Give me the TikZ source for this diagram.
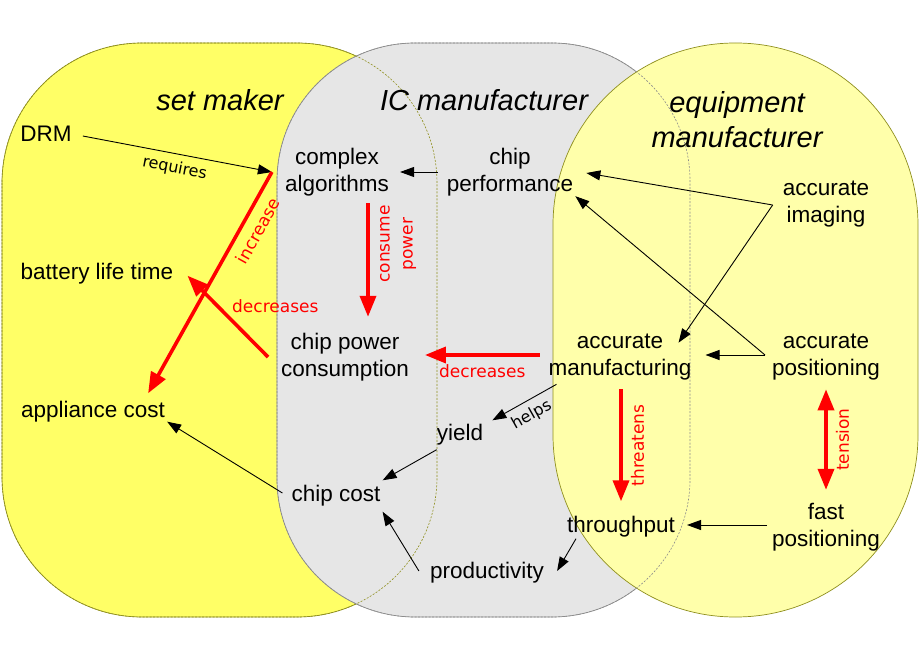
\documentclass[tikz,border=0pt]{standalone}
\usepackage{fontspec}
\setmainfont{Liberation Sans}
\newfontfamily\verbfont{DejaVu Sans}
\usetikzlibrary{arrows.meta}
\definecolor{makeryellow}{HTML}{FFFF66}
\definecolor{equipyellow}{HTML}{FFFFAA}
\definecolor{icgray}{HTML}{E6E6E6}
\definecolor{rimolive}{HTML}{8F8F1F}
\definecolor{rimgray}{HTML}{8C8C8C}
\tikzset{bigtip/.tip={Triangle[length=21pt,width=16pt]}}

\begin{document}
\begin{tikzpicture}[x=1pt,y=-1pt,
    party/.style={line width=0.7pt},
    hidden/.style={line width=0.6pt,dash pattern=on 2pt off 1.5pt},
    partyname/.style={align=center,font=\fontsize{29}{35}\selectfont\itshape},
    concept/.style={align=center,font=\fontsize{22.5}{27}\selectfont,inner sep=2pt},
    link/.style={-{Triangle[length=14pt,width=10pt]},line width=0.9pt},
    effect/.style={-bigtip,line width=3.6pt,red},
    verb/.style={font=\verbfont\fontsize{16}{19}\selectfont,inner sep=2pt,outer sep=5pt},
    redverb/.style={font=\verbfont\fontsize{17}{23}\selectfont,text=red,align=center,inner sep=2pt,outer sep=8pt}]

\useasboundingbox (0,0) rectangle (920,660);

% the three parties
\filldraw[party,fill=makeryellow,draw=rimolive,rounded corners=140pt] (2,43) rectangle (437,617);
\filldraw[party,fill=icgray,draw=rimgray,rounded corners=138pt] (277,43) rectangle (690,617);
\filldraw[party,fill=equipyellow,draw=rimolive,rounded corners=182pt] (553,43) rectangle (918,617);
\draw[hidden,rimolive,rounded corners=140pt] (2,43) rectangle (437,617);
\draw[hidden,rimgray,rounded corners=138pt] (277,43) rectangle (690,617);

\node[partyname] (maker) at (220,100) {set maker};
\node[partyname] (icman) at (484,100) {IC manufacturer};
\node[partyname] (equip) at (737,120) {equipment\\manufacturer};

% concepts
\node[concept] (drm) at (46,134) {DRM};
\node[concept] (algo) at (337,172) {complex\\algorithms};
\node[concept] (perf) at (510,172) {chip\\performance};
\node[concept] (img) at (826,204) {accurate\\imaging};
\node[concept] (batt) at (97,274) {battery life time};
\node[concept] (power) at (345,357) {chip power\\consumption};
\node[concept] (manu) at (620,357) {accurate\\manufacturing};
\node[concept] (pos) at (826,357) {accurate\\positioning};
\node[concept] (appl) at (93,412) {appliance cost};
\node[concept] (yield) at (460,435) {yield};
\node[concept] (ccost) at (336,496) {chip cost};
\node[concept] (thru) at (621,527) {throughput};
\node[concept] (fast) at (826,527) {fast\\positioning};
\node[concept] (prod) at (487,573) {productivity};

\coordinate (hub) at ([xshift=-11pt]algo.west);

% black relations
\draw[link] ([xshift=9pt,yshift=-2pt]drm.east) -- (hub) node[midway,below,sloped,verb] {requires};
\draw[link] ([xshift=-7pt]perf.west) -- ([xshift=9pt]algo.east);
\draw[link] ([xshift=-8pt,yshift=-1pt]img.west) -- ([xshift=11pt,yshift=-1pt]perf.east);
\draw[link] ([xshift=-8pt,yshift=-1pt]img.west) -- ([xshift=-15pt,yshift=-11pt]manu.north east);
\draw[link] ([xshift=-5pt,yshift=2pt]pos.west) -- ([yshift=2pt]perf.south east);
\draw[link] ([xshift=-5pt,yshift=2pt]pos.west) -- ([xshift=12pt,yshift=2pt]manu.east);
\draw[link] ([xshift=10pt,yshift=-2pt]manu.south west) -- ([xshift=7pt,yshift=2pt]yield.north east) node[midway,below,sloped,verb] {helps};
\draw[link] ([xshift=2pt,yshift=-2pt]yield.south west) -- ([yshift=3pt]ccost.north east);
\draw[link] ([xshift=-7pt,yshift=3pt]ccost.west) -- ([yshift=3pt]appl.south east);
\draw[link] ([xshift=-9pt,yshift=2pt]prod.west) -- ([yshift=-3pt]ccost.south east);
\draw[link] ([xshift=11pt,yshift=1pt]thru.south west) -- ([xshift=11pt,yshift=2pt]prod.east);
\draw[link] ([xshift=-3pt,yshift=2pt]fast.west) -- ([xshift=10pt,yshift=2pt]thru.east);

% red effects
\draw[effect] (hub) -- ([xshift=-19pt,yshift=6pt]appl.north east) node[pos=0.23,sloped,below,redverb] {increase};
\draw[effect] ([xshift=-11pt]power.west) -- ([xshift=12pt,yshift=11pt]batt.south east) node[pos=0.47,anchor=south west,redverb,outer sep=0pt,yshift=4pt] {decreases};
\draw[effect] ([xshift=31pt,yshift=-5pt]algo.south) -- ([xshift=23pt,yshift=14pt]power.north) node[pos=0.36,rotate=90,anchor=north,redverb,outer sep=10pt] {consume\\power};
\draw[effect] ([xshift=-7pt,yshift=2pt]manu.west) -- ([xshift=14pt,yshift=2pt]power.east) node[midway,below,redverb] {decreases};
\draw[effect] ([xshift=1pt,yshift=-7pt]manu.south) -- ([yshift=13pt]thru.north) node[midway,rotate=90,anchor=north,redverb] {threatens};
\draw[effect,bigtip-bigtip] ([yshift=-7pt]pos.south) -- ([yshift=11pt]fast.north) node[midway,rotate=90,anchor=north,redverb] {tension};
\end{tikzpicture}
\end{document}
